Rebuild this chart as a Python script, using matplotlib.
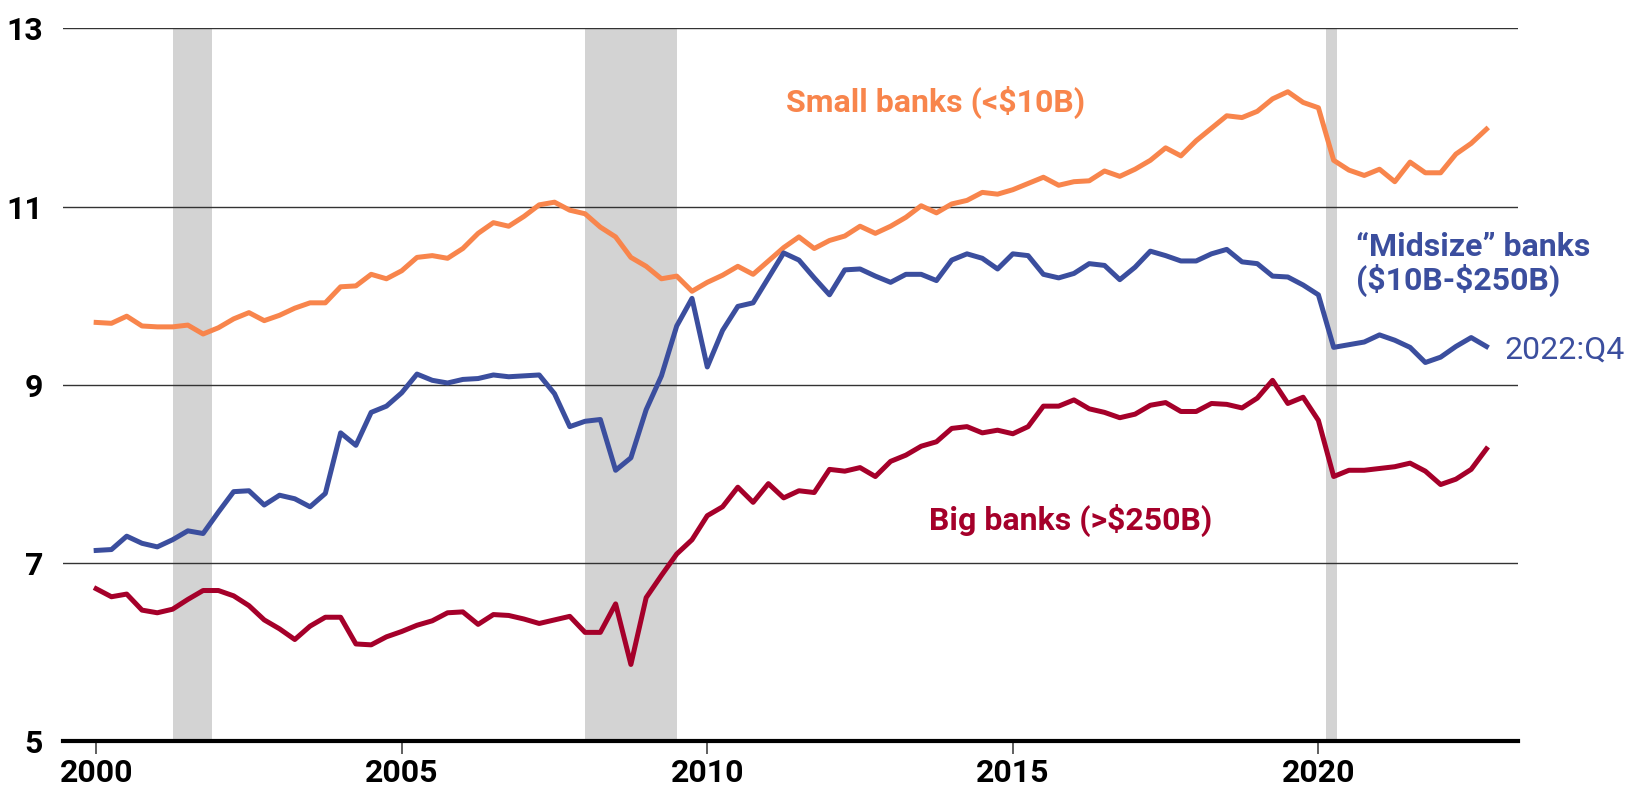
import numpy as np
import matplotlib.pyplot as plt

plt.rcParams['font.family'] = ['Roboto', 'DejaVu Sans']

# quarterly data, 2000:Q1 - 2022:Q4
START_YEAR = 2000

small_banks = [9.70, 9.69, 9.77, 9.66, 9.65, 9.65, 9.67, 9.57, 9.64, 9.74,
               9.81, 9.72, 9.78, 9.86, 9.92, 9.92, 10.10, 10.11, 10.24, 10.19,
               10.28, 10.43, 10.45, 10.42, 10.53, 10.70, 10.82, 10.78, 10.89, 11.02,
               11.05, 10.96, 10.92, 10.77, 10.66, 10.43, 10.33, 10.19, 10.22, 10.05,
               10.15, 10.23, 10.33, 10.24, 10.39, 10.54, 10.66, 10.53, 10.62, 10.67,
               10.78, 10.70, 10.78, 10.88, 11.01, 10.93, 11.03, 11.07, 11.16, 11.14,
               11.19, 11.26, 11.33, 11.24, 11.28, 11.29, 11.40, 11.34, 11.42, 11.52,
               11.66, 11.57, 11.74, 11.88, 12.02, 12.00, 12.07, 12.21, 12.29, 12.17,
               12.11, 11.52, 11.41, 11.35, 11.42, 11.28, 11.50, 11.38, 11.38, 11.59,
               11.71, 11.87]

midsize_banks = [7.14, 7.15, 7.30, 7.22, 7.18, 7.26, 7.36, 7.33, 7.57, 7.80,
                 7.81, 7.65, 7.76, 7.72, 7.63, 7.78, 8.46, 8.32, 8.69, 8.76,
                 8.91, 9.12, 9.05, 9.02, 9.06, 9.07, 9.11, 9.09, 9.10, 9.11,
                 8.90, 8.53, 8.59, 8.61, 8.04, 8.18, 8.72, 9.10, 9.66, 9.97,
                 9.20, 9.61, 9.88, 9.92, 10.20, 10.48, 10.40, 10.20, 10.01, 10.29,
                 10.30, 10.22, 10.15, 10.24, 10.24, 10.17, 10.40, 10.47, 10.42, 10.30,
                 10.47, 10.45, 10.24, 10.20, 10.25, 10.36, 10.34, 10.18, 10.32, 10.50,
                 10.45, 10.39, 10.39, 10.47, 10.52, 10.38, 10.36, 10.22, 10.21, 10.12,
                 10.01, 9.42, 9.45, 9.48, 9.56, 9.50, 9.42, 9.25, 9.31, 9.43,
                 9.53, 9.43]

big_banks = [6.71, 6.62, 6.65, 6.47, 6.44, 6.48, 6.59, 6.69, 6.69, 6.63,
             6.52, 6.36, 6.26, 6.14, 6.29, 6.39, 6.39, 6.09, 6.08, 6.17,
             6.23, 6.30, 6.35, 6.44, 6.45, 6.31, 6.42, 6.41, 6.37, 6.32,
             6.36, 6.40, 6.22, 6.22, 6.54, 5.86, 6.61, 6.86, 7.10, 7.26,
             7.53, 7.63, 7.85, 7.68, 7.89, 7.73, 7.81, 7.79, 8.05, 8.03,
             8.07, 7.97, 8.14, 8.21, 8.31, 8.36, 8.51, 8.53, 8.46, 8.49,
             8.45, 8.53, 8.76, 8.76, 8.83, 8.73, 8.69, 8.63, 8.67, 8.77,
             8.80, 8.70, 8.70, 8.79, 8.78, 8.74, 8.85, 9.05, 8.79, 8.86,
             8.60, 7.97, 8.04, 8.04, 8.06, 8.08, 8.12, 8.03, 7.88, 7.94,
             8.05, 8.28]

# recessions (start, end) in years
recessions = [(2001.25, 2001.9), (2008.0, 2009.5), (2020.13, 2020.3)]

x_ticks = [2000, 2005, 2010, 2015, 2020]
y_ticks = [5, 7, 9, 11, 13]

ORANGE = '#F8854C'
BLUE = '#3B4E9E'
RED = '#A5002A'

years = START_YEAR + np.arange(len(small_banks)) / 4

fig = plt.figure(figsize=(16.29, 7.85), dpi=100)
ax = fig.add_axes([0.0384, 0.056, 0.8936, 0.9077])

for start, end in recessions:
    ax.axvspan(start, end, color='#D3D3D3', lw=0, zorder=0)

for y in y_ticks[1:]:
    ax.axhline(y, color='#333333', lw=1.0, zorder=1)

ax.plot(years, small_banks, color=ORANGE, lw=3.6, zorder=3, solid_joinstyle='round')
ax.plot(years, midsize_banks, color=BLUE, lw=3.6, zorder=3, solid_joinstyle='round')
ax.plot(years, big_banks, color=RED, lw=3.6, zorder=3, solid_joinstyle='round')

ax.set_xlim(1999.45, 2023.27)
ax.set_ylim(5, 13)

for s in ['top', 'right', 'left']:
    ax.spines[s].set_visible(False)
ax.spines['bottom'].set_linewidth(3)
ax.spines['bottom'].set_color('black')

ax.set_xticks(x_ticks)
ax.set_yticks(y_ticks)
ax.tick_params(axis='x', length=9, width=1.2, color='#444444', pad=3,
               labelsize=23)
ax.tick_params(axis='y', length=0, pad=14, labelsize=23)
for lab in ax.get_xticklabels() + ax.get_yticklabels():
    lab.set_fontweight('bold')

# series labels
ax.text(2013.73, 12.17, 'Small banks (<\\$10B)', color=ORANGE, fontsize=23,
        fontweight='bold', va='center', ha='center')
ax.text(2013.62, 7.48, 'Big banks (>\\$250B)', color=RED, fontsize=23,
        fontweight='bold', va='center', ha='left')
ax.text(2020.62, 10.35, '\u201cMidsize\u201d banks\n(\\$10B-\\$250B)', color=BLUE,
        fontsize=23, fontweight='bold', va='center', ha='left', linespacing=1.05)
ax.text(2023.05, 9.39, '2022:Q4', color=BLUE, fontsize=23, va='center',
        ha='left', clip_on=False)

fig.savefig('out.png', dpi=100)
